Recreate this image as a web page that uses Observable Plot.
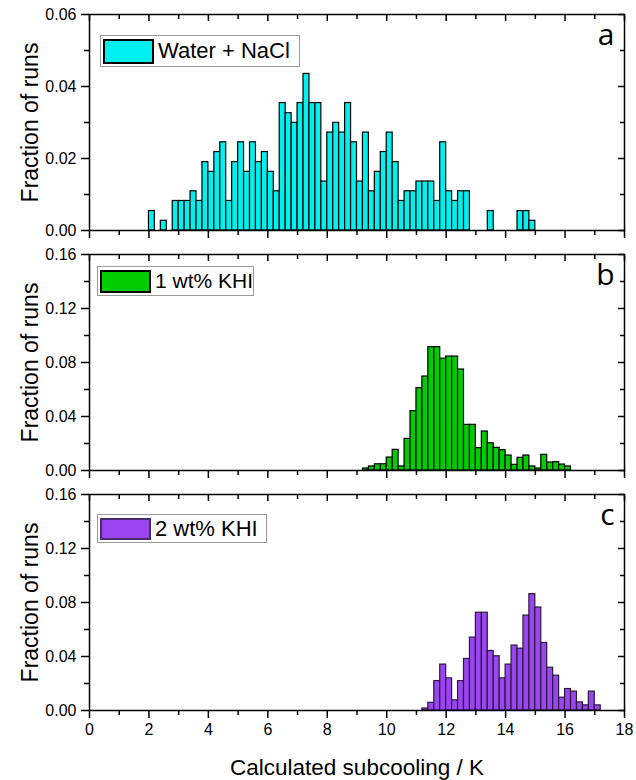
<!DOCTYPE html>
<html>
<head>
<meta charset="utf-8">
<script src="https://cdn.jsdelivr.net/npm/d3@7"></script>
<script src="https://cdn.jsdelivr.net/npm/@observablehq/plot@0.6"></script>
<style>
  body { margin: 0; background: #fff; }
  #root { width: 636px; }
  .panel { position: relative; width: 636px; }
  .panel svg { display: block; }
  .legend {
    position: absolute; box-sizing: border-box; background: #fff;
    border: 1px solid #9a9a9a; font-family: "Liberation Sans", Arial, sans-serif;
    color: #000; display: flex; align-items: center; white-space: nowrap;
  }
  .legend .sw { box-sizing: border-box; border: 2px solid #000; flex: none; }
</style>
</head>
<body>
<div id="root"></div>
<script>
// ---- data (bin left edges in K, fraction of runs) ----
const binWidth = 0.2;

const waterBins = [2.0, 2.4, 2.8, 3.0, 3.2, 3.4, 3.6, 3.8, 4.0, 4.2, 4.4, 4.6, 4.8, 5.0, 5.2, 5.4, 5.6, 5.8, 6.0, 6.2,
  6.4, 6.6, 6.8, 7.0, 7.2, 7.4, 7.6, 7.8, 8.0, 8.2, 8.4, 8.6, 8.8, 9.0, 9.2, 9.4, 9.6, 9.8, 10.0, 10.2,
  10.4, 10.6, 10.8, 11.0, 11.2, 11.4, 11.6, 11.8, 12.0, 12.2, 12.4, 12.6, 13.4, 14.4, 14.6, 14.8];
const waterFrac = [0.0054, 0.0027, 0.0082, 0.0082, 0.0082, 0.0109, 0.0082, 0.0190, 0.0163, 0.0218, 0.0245, 0.0082,
  0.0190, 0.0245, 0.0163, 0.0245, 0.0190, 0.0218, 0.0163, 0.0109, 0.0354, 0.0326, 0.0299, 0.0354, 0.0435,
  0.0354, 0.0354, 0.0136, 0.0272, 0.0299, 0.0272, 0.0354, 0.0245, 0.0136, 0.0272, 0.0109, 0.0163, 0.0218,
  0.0272, 0.0190, 0.0082, 0.0109, 0.0109, 0.0136, 0.0136, 0.0136, 0.0082, 0.0245, 0.0109, 0.0082, 0.0109,
  0.0109, 0.0054, 0.0054, 0.0054, 0.0027];

const khi1Bins = [9.2, 9.4, 9.6, 9.8, 10.0, 10.2, 10.4, 10.6, 10.8, 11.0, 11.2, 11.4, 11.6, 11.8, 12.0, 12.2, 12.4,
  12.6, 12.8, 13.0, 13.2, 13.4, 13.6, 13.8, 14.0, 14.2, 14.4, 14.6, 14.8, 15.0, 15.2, 15.4, 15.6, 15.8, 16.0];
const khi1Frac = [0.0015, 0.0030, 0.0046, 0.0046, 0.0096, 0.0153, 0.0030, 0.0234, 0.0440, 0.0610, 0.0696, 0.0914,
  0.0914, 0.0828, 0.0844, 0.0844, 0.0748, 0.0338, 0.0338, 0.0165, 0.0289, 0.0202, 0.0168, 0.0150, 0.0111,
  0.0042, 0.0094, 0.0111, 0.0030, 0.0015, 0.0116, 0.0059, 0.0062, 0.0044, 0.0030];

const khi2Bins = [11.2, 11.4, 11.6, 11.8, 12.0, 12.2, 12.4, 12.6, 12.8, 13.0, 13.2, 13.4, 13.6, 13.8, 14.0, 14.2,
  14.4, 14.6, 14.8, 15.0, 15.2, 15.4, 15.6, 15.8, 16.0, 16.2, 16.4, 16.6, 16.8, 17.0];
const khi2Frac = [0.0015, 0.0057, 0.0218, 0.0340, 0.0238, 0.0075, 0.0218, 0.0382, 0.0540, 0.0724, 0.0724, 0.0441,
  0.0402, 0.0238, 0.0340, 0.0481, 0.0458, 0.0703, 0.0862, 0.0763, 0.0500, 0.0317, 0.0258, 0.0095, 0.0159,
  0.0140, 0.0060, 0.0038, 0.0140, 0.0038];

const seriesNames = ["Water + NaCl", "1 wt% KHI", "2 wt% KHI"];
const panelLetters = ["a", "b", "c"];

const xMajor = [0, 2, 4, 6, 8, 10, 12, 14, 16, 18];
const xMinor = [1, 3, 5, 7, 9, 11, 13, 15, 17];
const yMajorA = [0, 0.02, 0.04, 0.06];
const yMinorA = [0.01, 0.03, 0.05];
const yMajorBC = [0, 0.04, 0.08, 0.12, 0.16];
const yMinorBC = [0.02, 0.06, 0.10, 0.14];

const xLabel = "Calculated subcooling / K";
const yLabel = "Fraction of runs";

// ---- drawing ----
const root = document.getElementById("root");
const font = "Liberation Sans, Arial, sans-serif";
const W = 636, ML = 89, MR = 12, MT = 14, FH = 216;
const FW = W - ML - MR;

function panel(cfg) {
  const data = cfg.bins.map((x, i) => ({x, v: cfg.frac[i]}));
  const last = cfg.bottomLabels;
  const tk = {strokeWidth: 1.5, fill: "none", label: null};
  const marks = [
    Plot.rectY(data, {x1: "x", x2: d => d.x + binWidth, y: "v", fill: cfg.fill, stroke: cfg.stroke, strokeWidth: 1.2}),
    Plot.frame({stroke: "black", strokeWidth: 1.5}),
    // left axis (outward)
    Plot.axisY(cfg.yMajor, {anchor: "left", tickSize: 8, tickPadding: 5, strokeWidth: 1.5,
      tickFormat: d3.format(".2f"), label: null, fontSize: 16}),
    Plot.axisY(cfg.yMinor, {anchor: "left", tickSize: 5, ...tk}),
    // right mirror axis (inward): left-anchored ticks shifted to the right edge
    Plot.axisY(cfg.yMajor, {anchor: "left", tickSize: 6, dx: FW, ...tk}),
    Plot.axisY(cfg.yMinor, {anchor: "left", tickSize: 4, dx: FW, ...tk}),
    // top mirror axis (inward): bottom-anchored ticks shifted to the top edge
    Plot.axisX(xMajor, {anchor: "bottom", tickSize: 7, dy: -FH, ...tk}),
    Plot.axisX(xMinor, {anchor: "bottom", tickSize: 5, dy: -FH, ...tk}),
    // bottom axis (outward)
    Plot.axisX(xMajor, {anchor: "bottom", tickSize: 8, tickPadding: 5, strokeWidth: 1.5, label: null,
      fill: last ? "black" : "none", tickFormat: d3.format("d"), fontSize: 16}),
    Plot.axisX(xMinor, {anchor: "bottom", tickSize: 5, ...tk}),
    Plot.text([yLabel], {frameAnchor: "left", textAnchor: "middle", rotate: -90, dx: -59, fontSize: 23, fontFamily: font}),
    Plot.text([cfg.letter], {frameAnchor: "top-right", textAnchor: "end", lineAnchor: "bottom",
      dx: -10, dy: 30, fontSize: 30, fontFamily: "Open Sans, sans-serif"})
  ];
  if (last) {
    marks.push(Plot.text([xLabel], {frameAnchor: "bottom", textAnchor: "middle", lineAnchor: "middle", dy: 57, fontSize: 22.5, fontFamily: font}));
  }
  const chart = Plot.plot({
    width: W,
    height: cfg.height,
    marginLeft: ML,
    marginRight: MR,
    marginTop: MT,
    marginBottom: cfg.marginBottom,
    style: {fontFamily: font, fontSize: "16px", color: "black", background: "white", overflow: "visible"},
    x: {domain: [0, 18]},
    y: {domain: cfg.yDomain},
    marks
  });
  const div = document.createElement("div");
  div.className = "panel";
  div.appendChild(chart);
  const lg = document.createElement("div");
  lg.className = "legend";
  Object.assign(lg.style, {left: cfg.lg.left + "px", top: cfg.lg.top + "px", width: cfg.lg.w + "px",
    height: cfg.lg.h + "px", fontSize: cfg.lg.fs + "px", paddingLeft: "2px"});
  const sw = document.createElement("div");
  sw.className = "sw";
  Object.assign(sw.style, {width: "51px", height: (cfg.lg.h - 7) + "px", background: cfg.fill,
    borderColor: cfg.swStroke, marginRight: "4px"});
  const tx = document.createElement("span");
  tx.textContent = cfg.name;
  lg.appendChild(sw); lg.appendChild(tx);
  div.appendChild(lg);
  root.appendChild(div);
}

panel({bins: waterBins, frac: waterFrac, yDomain: [0, 0.06], yMajor: yMajorA, yMinor: yMinorA,
  fill: "#00f0f0", stroke: "black", swStroke: "black", letter: panelLetters[0], name: seriesNames[0],
  height: 240, marginBottom: 10, bottomLabels: false,
  lg: {left: 100, top: 35, w: 200, h: 32, fs: 22}});
panel({bins: khi1Bins, frac: khi1Frac, yDomain: [0, 0.16], yMajor: yMajorBC, yMinor: yMinorBC,
  fill: "#00cc00", stroke: "black", swStroke: "black", letter: panelLetters[1], name: seriesNames[1],
  height: 240, marginBottom: 10, bottomLabels: false,
  lg: {left: 97, top: 26, w: 157, h: 30, fs: 21}});
panel({bins: khi2Bins, frac: khi2Frac, yDomain: [0, 0.16], yMajor: yMajorBC, yMinor: yMinorBC,
  fill: "#9b45f0", stroke: "#2a1a3a", swStroke: "#4a2a70", letter: panelLetters[2], name: seriesNames[2],
  height: 300, marginBottom: 70, bottomLabels: true,
  lg: {left: 97, top: 34, w: 170, h: 29, fs: 22}});
</script>
</body>
</html>
